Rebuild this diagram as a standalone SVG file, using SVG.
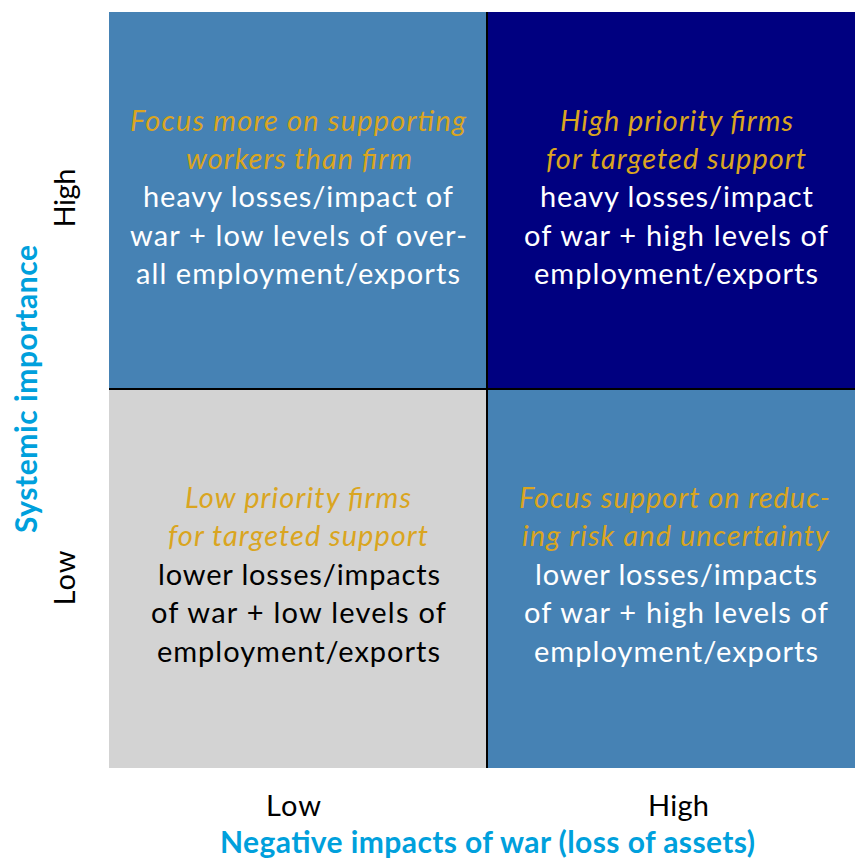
<svg xmlns="http://www.w3.org/2000/svg" width="855" height="860" viewBox="0 0 855 860">
<style>
text{font-family:Lato,"Open Sans","Liberation Sans",sans-serif;font-size:29px;text-anchor:middle}
.h{font-style:italic;fill:#DAA520}
.w{fill:#ffffff}
.k{fill:#000000}
.ax{fill:#000000;font-size:29px}
.t{fill:#00A0DC;font-weight:bold;font-size:30px}
</style>
<rect width="855" height="860" fill="#ffffff"/>
<g id="q-top-left">
<rect x="109" y="12" width="378" height="377" fill="#4682B4"/>
<text class="h" x="298" y="131" textLength="336">Focus more on supporting</text>
<text class="h" x="299" y="169" textLength="226">workers than firm</text>
<text class="w" x="298" y="207" textLength="310">heavy losses/impact of</text>
<text class="w" x="298.5" y="246" textLength="337">war + low levels of over-</text>
<text class="w" x="298" y="284" textLength="324">all employment/exports</text>
</g>
<g id="q-top-right">
<rect x="487" y="12" width="368" height="377" fill="#000080"/>
<text class="h" x="676.5" y="131" textLength="233">High priority firms</text>
<text class="h" x="676" y="169" textLength="260">for targeted support</text>
<text class="w" x="676.5" y="207" textLength="273">heavy losses/impact</text>
<text class="w" x="676" y="246" textLength="304">of war + high levels of</text>
<text class="w" x="676" y="284" textLength="284">employment/exports</text>
</g>
<g id="q-bottom-left">
<rect x="109" y="389" width="378" height="379" fill="#D3D3D3"/>
<text class="h" x="298" y="508" textLength="226">Low priority firms</text>
<text class="h" x="298" y="546" textLength="260">for targeted support</text>
<text class="k" x="299" y="585" textLength="282">lower losses/impacts</text>
<text class="k" x="298.5" y="623" textLength="295">of war + low levels of</text>
<text class="k" x="298.5" y="662" textLength="283">employment/exports</text>
</g>
<g id="q-bottom-right">
<rect x="487" y="389" width="368" height="379" fill="#4682B4"/>
<text class="h" x="674.5" y="508" textLength="311">Focus support on reduc-</text>
<text class="h" x="675.5" y="546" textLength="307">ing risk and uncertainty</text>
<text class="w" x="676" y="585" textLength="282">lower losses/impacts</text>
<text class="w" x="676" y="623" textLength="304">of war + high levels of</text>
<text class="w" x="676" y="662" textLength="284">employment/exports</text>
</g>
<g id="connectors">
<line x1="487" y1="12" x2="487" y2="768" stroke="#000" stroke-width="2"/>
<line x1="109" y1="389" x2="855" y2="389" stroke="#000" stroke-width="2"/>
</g>
<g id="axes">
<text class="ax" x="293.5" y="816" textLength="55">Low</text>
<text class="ax" x="678.5" y="816" textLength="61">High</text>
<text class="t" x="487.5" y="853" textLength="535">Negative impacts of war (loss of assets)</text>
<text class="ax" transform="translate(75,198) rotate(-90)" textLength="59">High</text>
<text class="ax" transform="translate(75,578) rotate(-90)" textLength="55">Low</text>
<text class="t" transform="translate(37,389) rotate(-90)" textLength="288">Systemic importance</text>
</g>
</svg>
